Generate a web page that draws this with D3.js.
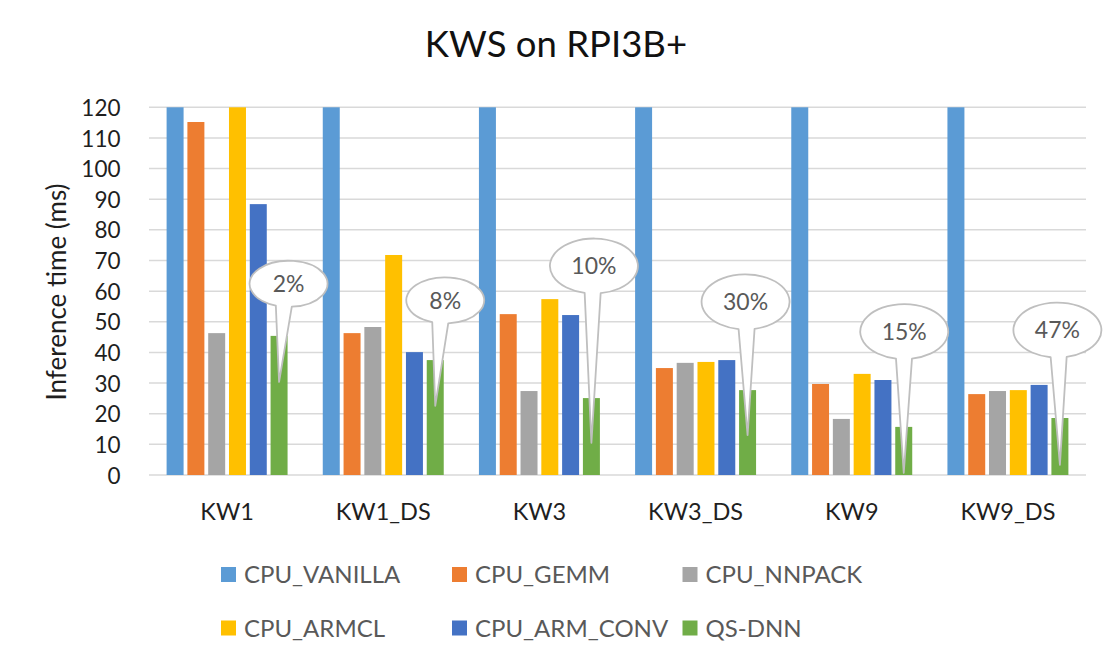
<!DOCTYPE html>
<html><head><meta charset="utf-8">
<script src="https://cdn.jsdelivr.net/npm/d3@7"></script>
<style>body{margin:0;background:#fff}svg{display:block}text{font-family:Lato,"Open Sans",sans-serif}</style>
</head><body><svg id="c" width="1112" height="664"></svg>
<script>
const categories = ["KW1","KW1_DS","KW3","KW3_DS","KW9","KW9_DS"];
const seriesNames = ["CPU_VANILLA","CPU_GEMM","CPU_NNPACK","CPU_ARMCL","CPU_ARM_CONV","QS-DNN"];
const cpuVanilla = [120,120,120,120,120,120]; // exceeds axis max, clipped at 120
const cpuGemm = [115.2,46.3,52.5,34.9,29.7,26.4];
const cpuNnpack = [46.3,48.3,27.4,36.6,18.3,27.4];
const cpuArmcl = [120,71.8,57.4,36.9,33.0,27.7];
const cpuArmConv = [88.4,40.1,52.2,37.5,31.0,29.4];
const qsDnn = [45.4,37.5,25.1,27.7,15.7,18.6];
const yTicks = [0,10,20,30,40,50,60,70,80,90,100,110,120];
const calloutLabels = ["2%","8%","10%","30%","15%","47%"];
const calloutTip = [30.4,22.6,10.5,13.0,0.7,3.3];
const calloutCenter = [62.4,57.0,68.2,56.5,46.8,47.3];

const colors = ["#5B9BD5","#ED7D31","#A5A5A5","#FFC000","#4472C4","#70AD47"];
const seriesValues = [cpuVanilla,cpuGemm,cpuNnpack,cpuArmcl,cpuArmConv,qsDnn];

const svg = d3.select("#c");
const pLeft = 149, pRight = 1086, pTop = 107.3, pBottom = 475;
const y = d3.scaleLinear().domain([0,120]).range([pBottom, pTop]).clamp(true);
const x0 = d3.scaleBand().domain(categories).range([pLeft,pRight]).paddingInner(0.2254).paddingOuter(0.1127);
const x1 = d3.scaleBand().domain(seriesNames).range([0,x0.bandwidth()]).paddingInner(0.183).paddingOuter(0);

// title
svg.append("text").attr("x",556).attr("y",57).attr("text-anchor","middle")
  .attr("font-size",36.5).attr("fill","#111").text("KWS on RPI3B+");

// gridlines
svg.append("g").selectAll("line").data(yTicks).join("line")
  .attr("x1",pLeft).attr("x2",pRight).attr("y1",d=>y(d)).attr("y2",d=>y(d))
  .attr("stroke","#d9d9d9").attr("stroke-width",1.5);

// y axis labels
const yAxis = d3.axisLeft(y).tickValues(yTicks).tickSize(0).tickPadding(0);
const gy = svg.append("g").attr("transform",`translate(${120.5},0)`).call(yAxis);
gy.select(".domain").remove();
gy.selectAll("text").attr("font-size",22.5).attr("fill","#1f1f1f").attr("font-family","Lato,'Open Sans',sans-serif").attr("dy","0.36em");

svg.append("text").attr("transform",`translate(66,292) rotate(-90)`).attr("text-anchor","middle")
  .attr("font-size",26).attr("fill","#1f1f1f").text("Inference time (ms)");

// x axis labels
const xAxis = d3.axisBottom(x0).tickSize(0).tickPadding(0);
const gx = svg.append("g").attr("transform",`translate(0,${pBottom+37})`).call(xAxis);
gx.select(".domain").remove();
gx.selectAll("text").attr("font-size",23.5).attr("fill","#1f1f1f").attr("font-family","Lato,'Open Sans',sans-serif").attr("dy","0.36em");

// bars
const groups = svg.append("g").selectAll("g").data(categories).join("g")
  .attr("transform",d=>`translate(${x0(d)},0)`);
groups.selectAll("rect").data((c,i)=>seriesNames.map((s,j)=>({s,v:seriesValues[j][i],c:colors[j]}))).join("rect")
  .attr("x",d=>x1(d.s)).attr("width",x1.bandwidth())
  .attr("y",d=>y(d.v)).attr("height",d=>pBottom-y(d.v)).attr("fill",d=>d.c);

// callouts
const callG = svg.append("g");
const offs = [9.5,10,2.5,-2,0.5,-2.5];
categories.forEach((c,i)=>{
  const tipX = x0(c)+x1("QS-DNN")+x1.bandwidth()/2;
  const tipY = y(calloutTip[i]);
  const cy = y(calloutCenter[i]);
  const label = calloutLabels[i];
  const rx = label.length>2 ? 44 : 39;
  const ry = label.length>2 ? 27.5 : 23;
  const cx = tipX + offs[i];
  const bc = (tipX+cx)/2;
  const b1 = bc-8, b2 = bc+8;
  const by = dx => cy + ry*Math.sqrt(Math.max(0,1-(dx/rx)*(dx/rx)));
  const path = `M${b2},${by(b2-cx)} A${rx},${ry} 0 1 0 ${b1},${by(b1-cx)} L${tipX},${tipY} Z`;
  callG.append("path").attr("d",path).attr("fill","#fff").attr("stroke","#bfbfbf").attr("stroke-width",1.8).attr("stroke-linejoin","round");
  callG.append("text").attr("x",cx).attr("y",cy).attr("dy","0.36em").attr("text-anchor","middle")
    .attr("font-size",23).attr("fill","#595959").text(label);
});

// legend
const legX = [221,452,682.5];
const legY = [574.5,628];
const leg = svg.append("g").selectAll("g").data(seriesNames).join("g")
  .attr("transform",(d,i)=>`translate(${legX[i%3]},${legY[Math.floor(i/3)]})`);
leg.append("rect").attr("x",0).attr("y",-7.5).attr("width",15).attr("height",15).attr("fill",(d,i)=>colors[i]);
leg.append("text").attr("x",23).attr("y",0).attr("dy","0.36em").attr("font-size",24).attr("fill","#595959").text(d=>d);
</script></body></html>
